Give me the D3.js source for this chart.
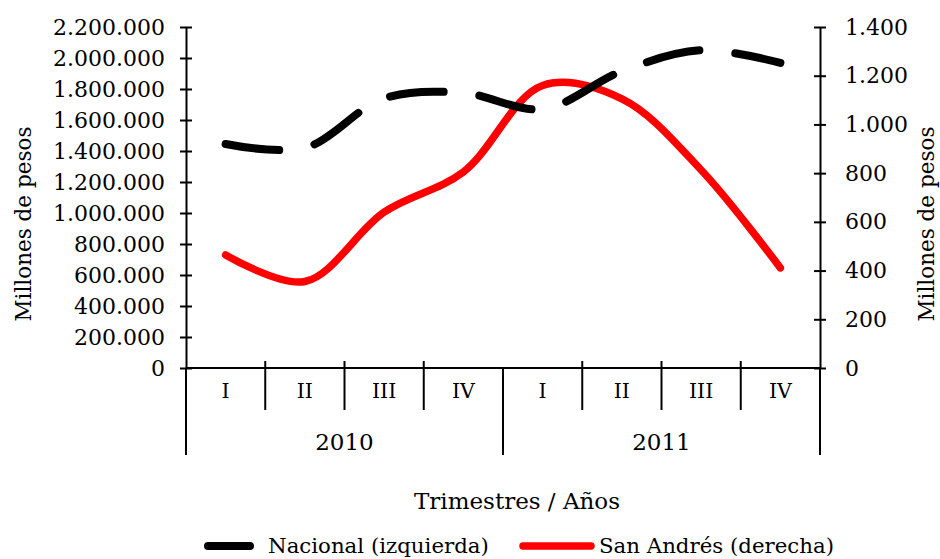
<!DOCTYPE html>
<html>
<head>
<meta charset="utf-8">
<script src="https://cdn.jsdelivr.net/npm/d3@7"></script>
<style>
  body { margin: 0; background: #fff; }
  text { font-family: "DejaVu Serif", serif; fill: #000; }
</style>
</head>
<body>
<script>
var width = 940
var height = 559
var margin = { left: 186, top: 27, right: 120, bottom: 191 }
var innerWidth = width - margin.left - margin.right
var innerHeight = height - margin.top - margin.bottom

// data
var quarters = ['I', 'II', 'III', 'IV', 'I', 'II', 'III', 'IV']
var years = ['2010', '2011']
var nacional = [1445000, 1420000, 1740000, 1775000, 1670000, 1915000, 2050000, 1968000]
var sanAndres = [464, 355, 640, 805, 1160, 1105, 813, 411]
var leftTicks = [0, 200000, 400000, 600000, 800000, 1000000, 1200000, 1400000, 1600000, 1800000, 2000000, 2200000]
var rightTicks = [0, 200, 400, 600, 800, 1000, 1200, 1400]
var seriesNames = ['Nacional (izquierda)', 'San Andrés (derecha)']

var locale = d3.formatLocale({ decimal: ',', thousands: '.', grouping: [3], currency: ['$', ''] })
var fmt = locale.format(',')

var keys = quarters.map((q, i) => years[Math.floor(i / 4)] + '-' + q)

var svg = d3.select('body').append('svg').attr('width', width).attr('height', height)
var g = svg.append('g').attr('transform', `translate(${margin.left},${margin.top})`)

var xScale = d3.scaleBand().domain(keys).range([0, innerWidth])
var yLeft = d3.scaleLinear().domain([0, 2200000]).range([innerHeight, 0])
var yRight = d3.scaleLinear().domain([0, 1400]).range([innerHeight, 0])

// left axis
var leftAxis = g.append('g').call(d3.axisLeft(yLeft).tickValues(leftTicks).tickFormat(fmt).tickSizeInner(6).tickSizeOuter(0).tickPadding(15))
leftAxis.selectAll('.tick line').attr('x1', 6)
// right axis
var rightAxis = g.append('g').attr('transform', `translate(${innerWidth},0)`)
  .call(d3.axisRight(yRight).tickValues(rightTicks).tickFormat(fmt).tickSizeInner(6).tickSizeOuter(0).tickPadding(19))
rightAxis.selectAll('.tick line').attr('x1', -6)

leftAxis.attr('font-family', null).attr('font-size', null)
rightAxis.attr('font-family', null).attr('font-size', null)
g.selectAll('.domain').attr('stroke', '#000').attr('stroke-width', 2)
g.selectAll('.tick line').attr('stroke', '#000').attr('stroke-width', 2)
g.selectAll('.tick text').attr('fill', '#000').style('font-size', '22px')

// category axis
g.append('line').attr('x1', 0).attr('x2', innerWidth).attr('y1', innerHeight).attr('y2', innerHeight)
  .attr('stroke', '#000').attr('stroke-width', 2)
var bounds = keys.map(k => xScale(k)).concat([innerWidth])
g.append('g').selectAll('line').data(bounds).enter().append('line')
  .attr('x1', d => d).attr('x2', d => d)
  .attr('y1', (d, i) => i % 4 === 0 ? innerHeight : innerHeight - 7)
  .attr('y2', (d, i) => i % 4 === 0 ? innerHeight + 87 : innerHeight + 42)
  .attr('stroke', '#000').attr('stroke-width', 2)

g.append('g').selectAll('text').data(keys).enter().append('text')
  .text((d, i) => quarters[i])
  .attr('x', d => xScale(d) + xScale.bandwidth() / 2)
  .attr('y', innerHeight + 30)
  .attr('text-anchor', 'middle').style('font-size', '20.5px')

g.append('g').selectAll('text').data(years).enter().append('text')
  .text(d => d)
  .attr('x', (d, i) => xScale(keys[i * 4]) + xScale.bandwidth() * 2)
  .attr('y', innerHeight + 82)
  .attr('text-anchor', 'middle').style('font-size', '23px')

// axis titles
svg.append('text').text('Millones de pesos')
  .attr('transform', 'translate(31,224) rotate(-90)')
  .attr('text-anchor', 'middle').style('font-size', '21.5px')
svg.append('text').text('Millones de pesos')
  .attr('transform', 'translate(934,224) rotate(-90)')
  .attr('text-anchor', 'middle').style('font-size', '21.5px')
svg.append('text').text('Trimestres / Años')
  .attr('x', 517).attr('y', 509)
  .attr('text-anchor', 'middle').style('font-size', '23px')

// lines
var lineLeft = d3.line().x((d, i) => xScale(keys[i]) + xScale.bandwidth() / 2).y(d => yLeft(d)).curve(d3.curveCatmullRom.alpha(0.5))
var lineRight = d3.line().x((d, i) => xScale(keys[i]) + xScale.bandwidth() / 2).y(d => yRight(d)).curve(d3.curveCatmullRom.alpha(0.5))

g.append('path').datum(sanAndres).attr('d', lineRight)
  .attr('fill', 'none').attr('stroke', '#ff0000').attr('stroke-width', 7.5).attr('stroke-linecap', 'round')
g.append('path').datum(nacional).attr('d', lineLeft)
  .attr('fill', 'none').attr('stroke', '#000').attr('stroke-width', 8).attr('stroke-linecap', 'round')
  .attr('stroke-dasharray', '54,36')

// legend
var legend = svg.append('g').attr('transform', 'translate(0,546)')
legend.append('line').attr('x1', 208).attr('x2', 250).attr('y1', 0).attr('y2', 0)
  .attr('stroke', '#000').attr('stroke-width', 8).attr('stroke-linecap', 'round')
legend.append('text').text(seriesNames[0]).attr('x', 268).attr('y', 7).style('font-size', '21.3px')
legend.append('line').attr('x1', 523).attr('x2', 591).attr('y1', 0).attr('y2', 0)
  .attr('stroke', '#ff0000').attr('stroke-width', 7.5).attr('stroke-linecap', 'round')
legend.append('text').text(seriesNames[1]).attr('x', 599).attr('y', 7).style('font-size', '21.3px')
</script>
</body>
</html>
